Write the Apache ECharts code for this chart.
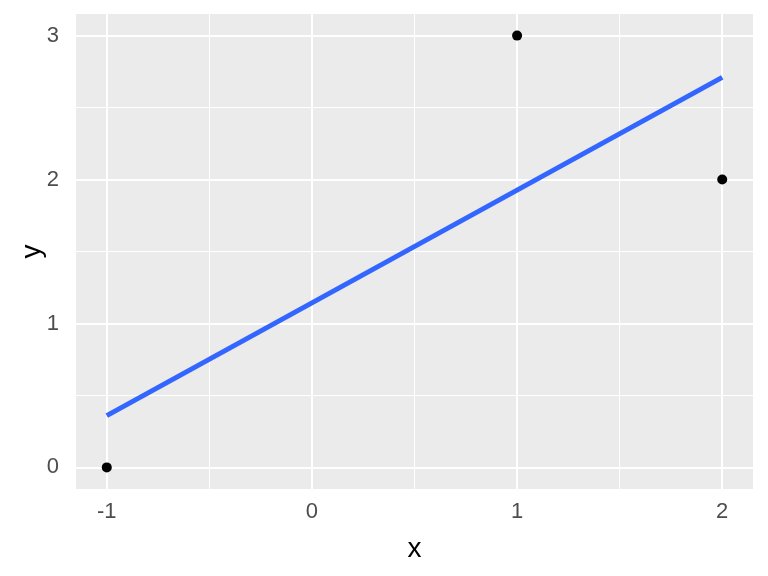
<!DOCTYPE html>
<html>
<head>
<meta charset="utf-8">
<script src="https://cdn.jsdelivr.net/npm/echarts@6/dist/echarts.min.js"></script>
<style>html,body{margin:0;padding:0;background:#fff}#c{width:768px;height:576px}</style>
</head>
<body>
<div id="c"></div>
<script>
// data
var pointX = [-1, 1, 2];
var pointY = [0, 3, 2];
var fitX = [-1, 2];
var fitY = [0.36, 2.71];
var xTicks = [-1, 0, 1, 2];
var yTicks = [0, 1, 2, 3];
var xMinor = [-0.5, 0.5, 1.5];
var yMinor = [0.5, 1.5, 2.5];

var chart = echarts.init(document.getElementById('c'));
var gridData = [];
xTicks.forEach(function (v) { gridData.push({ xAxis: v, lineStyle: { width: 2 } }); });
xMinor.forEach(function (v) { gridData.push({ xAxis: v, lineStyle: { width: 1 } }); });
yTicks.forEach(function (v) { gridData.push({ yAxis: v, lineStyle: { width: 2 } }); });
yMinor.forEach(function (v) { gridData.push({ yAxis: v, lineStyle: { width: 1 } }); });

var labelFont = { color: '#4D4D4D', fontSize: 22, fontFamily: 'Liberation Sans, Arial, sans-serif' };
chart.setOption({
  animation: false,
  grid: { left: 76, right: 15, top: 14, bottom: 87, show: true, backgroundColor: '#EBEBEB', borderWidth: 0 },
  xAxis: {
    type: 'value', min: -1.15, max: 2.15,
    name: 'x', nameLocation: 'middle', nameGap: 46, nameMoveOverlap: false,
    nameTextStyle: { color: '#000', fontSize: 28, fontFamily: 'Liberation Sans, Arial, sans-serif' },
    axisLine: { show: false },
    splitLine: { show: false },
    axisTick: { show: true, length: 8, customValues: xTicks, lineStyle: { color: '#333333', width: 2 } },
    axisLabel: Object.assign({ customValues: xTicks, margin: 12 }, labelFont)
  },
  yAxis: {
    type: 'value', min: -0.15, max: 3.15,
    name: 'y', nameLocation: 'middle', nameGap: 30, nameRotate: 90, nameMoveOverlap: false,
    nameTextStyle: { color: '#000', fontSize: 28, fontFamily: 'Liberation Sans, Arial, sans-serif' },
    axisLine: { show: false },
    splitLine: { show: false },
    axisTick: { show: true, length: 8, customValues: yTicks, lineStyle: { color: '#333333', width: 2 } },
    axisLabel: Object.assign({ customValues: yTicks, margin: 17 }, labelFont)
  },
  series: [
    {
      type: 'line', data: [], z: 1, silent: true,
      markLine: { silent: true, z: 1, symbol: ['none', 'none'], label: { show: false },
        lineStyle: { color: '#FFFFFF', type: 'solid' }, emphasis: { disabled: true }, data: gridData }
    },
    {
      type: 'line', z: 10, showSymbol: false, silent: true,
      data: fitX.map(function (x, i) { return [x, fitY[i]]; }),
      lineStyle: { color: '#3366FF', width: 5 }
    },
    {
      type: 'scatter', z: 11, symbolSize: 10,
      data: pointX.map(function (x, i) { return [x, pointY[i]]; }),
      itemStyle: { color: '#000000', opacity: 1 }
    }
  ]
});
</script>
</body>
</html>
